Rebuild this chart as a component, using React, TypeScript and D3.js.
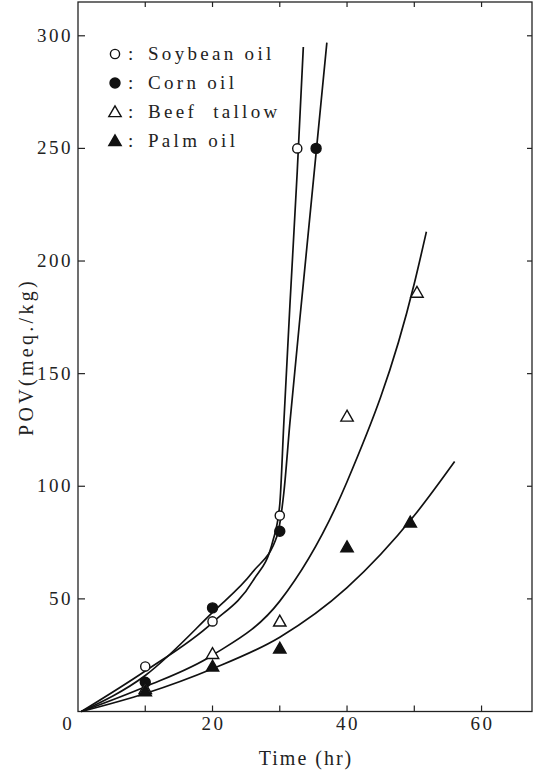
import React, { useEffect, useRef } from "react";
import * as d3 from "d3";

// measured points
const soyT = [10, 20, 30, 32.6];
const soyP = [20, 40, 87, 250];
const cornT = [10, 20, 30, 35.4];
const cornP = [13, 46, 80, 250];
const beefT = [10, 20, 30, 40, 50.4];
const beefP = [10, 25.6, 40, 131, 186];
const palmT = [10, 20, 30, 40, 49.4];
const palmP = [9, 20, 28, 73, 84];

// fitted curves
const soyCurveT = [0.5, 10, 20, 26, 29, 30, 30.6, 31.5, 32.6, 33.5];
const soyCurveP = [0, 18, 39.5, 58, 76, 92, 128, 180, 240, 295];
const cornCurveT = [0.5, 10, 20, 26, 29.6, 30.6, 31.5, 33.5, 35.4, 37];
const cornCurveP = [0, 16, 44, 62, 78, 97, 128, 190, 248, 297];
const beefCurveT = [0.5, 10, 20, 30, 40, 50, 51.8];
const beefCurveP = [0, 11, 25, 49, 102, 190, 213];
const palmCurveT = [0.5, 10, 20, 30, 40, 50, 56];
const palmCurveP = [0, 8, 19, 33, 55, 87, 111];

const xTicks = [10, 20, 30, 40, 50, 60];
const xLabels = [20, 40, 60];
const yTicks = [50, 100, 150, 200, 250, 300];
const legendNames = ["Soybean oil", "Corn oil", "Beef  tallow", "Palm oil"];

const FONT = "'Liberation Serif', 'DejaVu Serif', serif";

function App() {
  const ref = useRef<SVGSVGElement>(null);

  useEffect(() => {
    const svg = d3.select(ref.current);
    svg.selectAll("*").remove();

    const x = d3.scaleLinear().domain([0, 67.5]).range([78, 532]);
    const y = d3.scaleLinear().domain([0, 315]).range([711.5, 2]);

    // frame
    svg.append("rect")
      .attr("x", x(0)).attr("y", y(315))
      .attr("width", x(67.5) - x(0)).attr("height", y(0) - y(315))
      .attr("fill", "none").attr("stroke", "#222").attr("stroke-width", 1.3);

    const g = svg.append("g");
    // inward ticks on all four sides
    xTicks.forEach(t => {
      g.append("line").attr("x1", x(t)).attr("x2", x(t)).attr("y1", y(0)).attr("y2", y(0) - 6)
        .attr("stroke", "#222").attr("stroke-width", 1.2);
      g.append("line").attr("x1", x(t)).attr("x2", x(t)).attr("y1", y(315)).attr("y2", y(315) + 5)
        .attr("stroke", "#222").attr("stroke-width", 1.2);
    });
    yTicks.forEach(t => {
      g.append("line").attr("x1", x(0)).attr("x2", x(0) + 7).attr("y1", y(t)).attr("y2", y(t))
        .attr("stroke", "#222").attr("stroke-width", 1.2);
      g.append("line").attr("x1", x(67.5)).attr("x2", x(67.5) - 5).attr("y1", y(t)).attr("y2", y(t))
        .attr("stroke", "#222").attr("stroke-width", 1.2);
    });

    const txt = svg.append("g").attr("font-family", FONT).attr("fill", "#222");
    yTicks.forEach(t => {
      txt.append("text").attr("x", x(0) - 5).attr("y", y(t) + 6)
        .attr("text-anchor", "end").attr("font-size", 19).attr("letter-spacing", 2.5)
        .text(t);
    });
    txt.append("text").attr("x", 67).attr("y", 730).attr("text-anchor", "middle")
      .attr("font-size", 19).text("0");
    xLabels.forEach(t => {
      txt.append("text").attr("x", x(t) + 1).attr("y", 730).attr("text-anchor", "middle")
        .attr("font-size", 19).attr("letter-spacing", 2.5).text(t);
    });
    txt.append("text").attr("x", 306).attr("y", 765).attr("text-anchor", "middle")
      .attr("font-size", 20).attr("letter-spacing", 2).text("Time (hr)");
    txt.append("text").attr("transform", "translate(33,357) rotate(-90)")
      .attr("text-anchor", "middle").attr("font-size", 20).attr("letter-spacing", 3.3)
      .text("POV(meq./kg)");

    // curves
    const line = d3.line<[number, number]>()
      .x(d => x(d[0])).y(d => y(d[1]))
      .curve(d3.curveMonotoneX);
    const curves: [number[], number[]][] = [
      [soyCurveT, soyCurveP],
      [cornCurveT, cornCurveP],
      [beefCurveT, beefCurveP],
      [palmCurveT, palmCurveP],
    ];
    curves.forEach(([ts, ps]) => {
      svg.append("path")
        .datum(ts.map((t, i) => [t, ps[i]] as [number, number]))
        .attr("d", line)
        .attr("fill", "none").attr("stroke", "#111").attr("stroke-width", 1.7);
    });

    // markers
    const marker = (sel: d3.Selection<SVGGElement, unknown, null, undefined>, kind: number, cx: number, cy: number) => {
      if (kind < 2) {
        sel.append("circle").attr("cx", cx).attr("cy", cy).attr("r", kind === 0 ? 4.6 : 5)
          .attr("fill", kind === 0 ? "#fff" : "#111").attr("stroke", "#111").attr("stroke-width", 1.4);
      } else {
        const s = 6.2;
        const pts = [[cx, cy - s], [cx - s, cy + s * 0.75], [cx + s, cy + s * 0.75]];
        sel.append("polygon").attr("points", pts.map(p => p.join(",")).join(" "))
          .attr("fill", kind === 2 ? "#fff" : "#111").attr("stroke", "#111").attr("stroke-width", 1.4);
      }
    };
    const mg = svg.append("g") as d3.Selection<SVGGElement, unknown, null, undefined>;
    const series: [number[], number[]][] = [[soyT, soyP], [cornT, cornP], [beefT, beefP], [palmT, palmP]];
    series.forEach(([ts, ps], k) => {
      ts.forEach((t, i) => marker(mg, k, x(t), y(ps[i])));
    });

    // legend
    legendNames.forEach((name, k) => {
      const ly = 54 + k * 29;
      marker(mg, k, 115, ly);
      txt.append("text").attr("x", 128).attr("y", ly + 6).attr("font-size", 19).text(":");
      txt.append("text").attr("x", 148).attr("y", ly + 6).attr("font-size", 19)
        .attr("letter-spacing", 3.3).style("white-space", "pre").text(name);
    });
  }, []);

  return (
    <svg ref={ref} width={536} height={772}
      style={{ position: "absolute", left: 0, top: 0, background: "#fff" }} />
  );
}

export default App;
